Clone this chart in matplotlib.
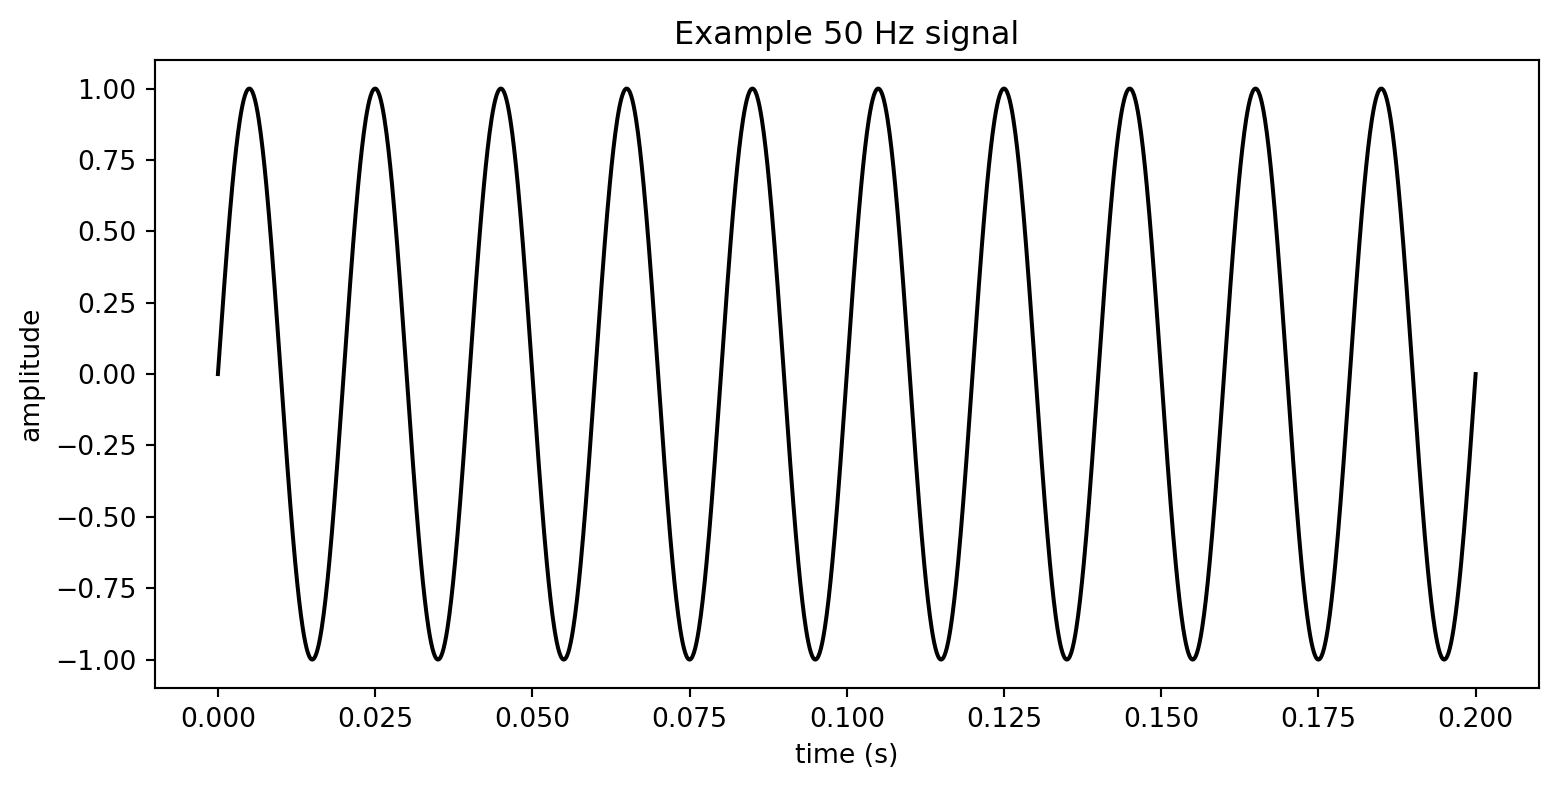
import numpy as np
import matplotlib
matplotlib.use("Agg")
import matplotlib.pyplot as plt

# Signal parameters (50 Hz, amplitude 1, 0 to 0.2 s)
frequency_hz = 50
amplitude = 1.0
duration_s = 0.2
n_samples = 2000

x_ticks = [0.000, 0.025, 0.050, 0.075, 0.100, 0.125, 0.150, 0.175, 0.200]
y_ticks = [-1.00, -0.75, -0.50, -0.25, 0.00, 0.25, 0.50, 0.75, 1.00]

t = np.linspace(0, duration_s, n_samples + 1)
signal = amplitude * np.sin(2 * np.pi * frequency_hz * t)

DPI = 192
fig = plt.figure(figsize=(1558 / DPI, 790 / DPI), dpi=DPI)
ax = fig.add_axes([0.0995, 0.129, 0.888, 0.795])
ax.plot(t, signal, color="black", linewidth=1.5)
ax.set_title("Example 50 Hz signal")
ax.set_xlabel("time (s)")
ax.set_ylabel("amplitude")
ax.set_xticks(x_ticks)
ax.set_yticks(y_ticks)
fig.savefig("out.png", dpi=DPI)
